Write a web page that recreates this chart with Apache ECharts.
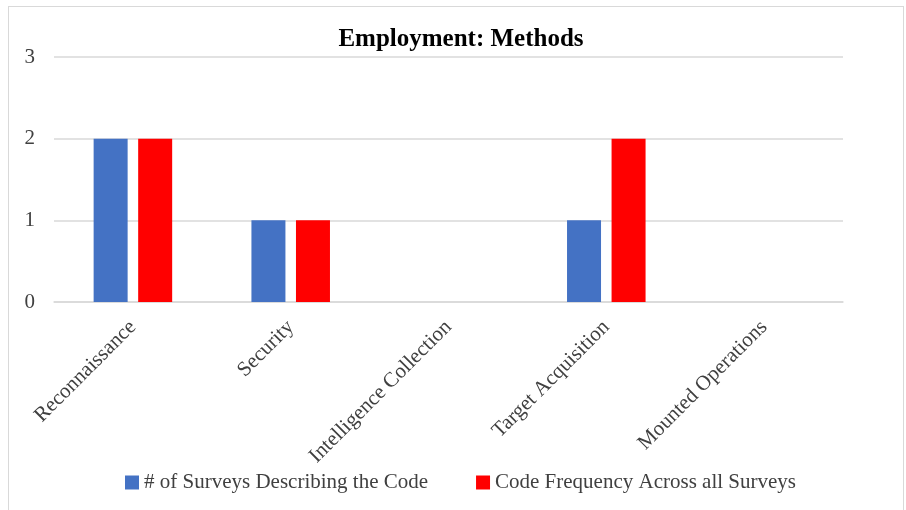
<!DOCTYPE html>
<html>
<head>
<meta charset="utf-8">
<script src="https://cdn.jsdelivr.net/npm/echarts@6/dist/echarts.min.js"></script>
<style>
  html, body { margin: 0; padding: 0; background: #fff; }
  #frame { position: absolute; left: 8px; top: 6px; width: 896px; height: 520px; border: 1px solid #d9d9d9; box-sizing: border-box; }
  #chart { position: absolute; left: 0; top: 0; width: 906px; height: 510px; }
</style>
</head>
<body>
<div id="frame"></div>
<div id="chart"></div>
<script>
const categories = ['Reconnaissance', 'Security', 'Intelligence Collection', 'Target Acquisition', 'Mounted Operations'];
const surveysDescribing = [2, 1, 0, 1, 0];
const codeFrequency = [2, 1, 0, 2, 0];
const yTicks = [0, 1, 2, 3];

const font = '"Liberation Serif", "Times New Roman", serif';
const chart = echarts.init(document.getElementById('chart'));

const option = {
  animation: false,
  title: {
    text: 'Employment: Methods',
    left: 456,
    textAlign: 'center',
    top: 22,
    textStyle: { fontFamily: font, fontSize: 25, fontWeight: 'bold', color: '#000' }
  },
  legend: {
    bottom: 12,
    left: 120,
    itemWidth: 14,
    itemHeight: 14,
    itemGap: 48,
    icon: 'rect',
    textStyle: { fontFamily: font, fontSize: 21, color: '#404040' },
    data: ['# of Surveys Describing the Code', 'Code Frequency Across all Surveys']
  },
  grid: { left: 54, right: 63, top: 57, bottom: 208 },
  xAxis: {
    type: 'category',
    data: categories,
    axisLine: { lineStyle: { color: '#d9d9d9', width: 1.5 } },
    axisTick: { show: false },
    axisLabel: {
      rotate: 45,
      margin: 22,
      interval: 0,
      fontFamily: font,
      fontSize: 21,
      color: '#404040'
    }
  },
  yAxis: {
    type: 'value',
    min: yTicks[0],
    max: yTicks[yTicks.length - 1],
    interval: 1,
    axisLine: { show: false },
    axisTick: { show: false },
    splitLine: { lineStyle: { color: '#d9d9d9', width: 1.5 } },
    axisLabel: { margin: 19, fontFamily: font, fontSize: 21, color: '#404040' }
  },
  series: [
    {
      name: '# of Surveys Describing the Code',
      type: 'bar',
      data: surveysDescribing,
      barWidth: 34,
      barGap: '31%',
      itemStyle: { color: '#4472C4' }
    },
    {
      name: 'Code Frequency Across all Surveys',
      type: 'bar',
      data: codeFrequency,
      barWidth: 34,
      barGap: '31%',
      itemStyle: { color: '#FF0000' }
    }
  ]
};

chart.setOption(option);
</script>
</body>
</html>
